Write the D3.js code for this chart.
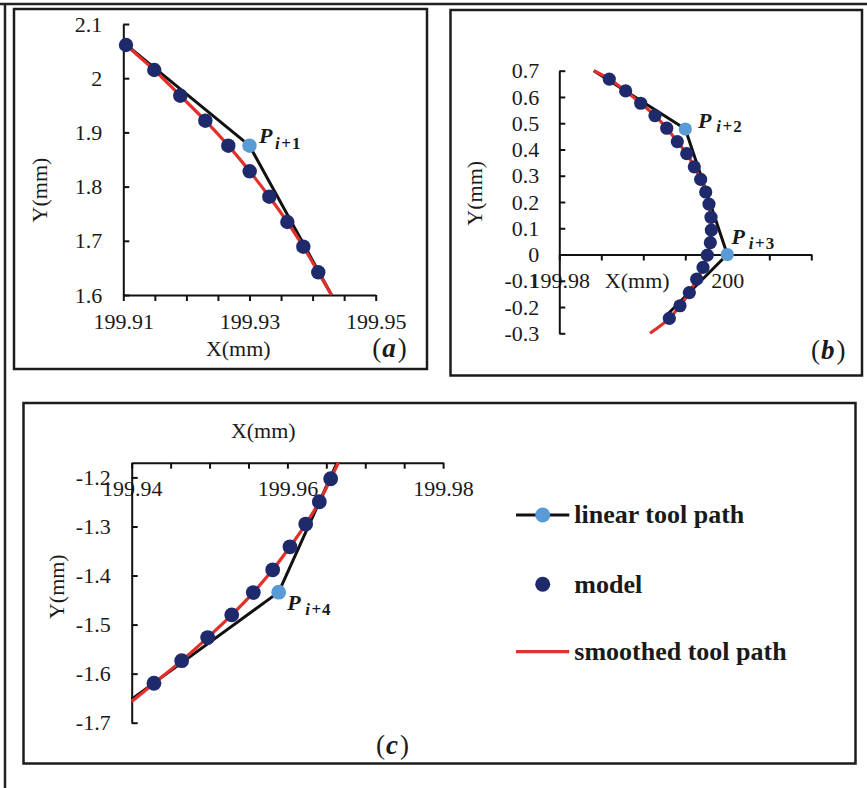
<!DOCTYPE html>
<html><head><meta charset="utf-8">
<script src="https://cdn.jsdelivr.net/npm/d3@7"></script>
<style>
body{margin:0;background:#fff}
svg{display:block}
text{font-family:"Liberation Serif","Times New Roman",serif;fill:#1a1a1a}
</style>
</head><body>
<svg id="chart" width="867" height="788"></svg>
<script>
// ---------------- DATA ----------------
// Panel (a)
const linearA = [[199.9100, 2.066], [199.9300, 1.8755], [199.9430, 1.600]];
const vertexA = [[199.9300, 1.8755]];
const modelA = [[199.91043, 2.0613], [199.91491, 2.0151], [199.91903, 1.9677], [199.92300, 1.9216],
  [199.92664, 1.8755], [199.93003, 1.8282], [199.93314, 1.7814], [199.93600, 1.7347],
  [199.93853, 1.6891], [199.94090, 1.6419]];
const smoothA = [[199.9100, 2.067], [199.91043, 2.0613], [199.91491, 2.0151], [199.91903, 1.9677],
  [199.92300, 1.9216], [199.92664, 1.8755], [199.93003, 1.8282], [199.93314, 1.7814],
  [199.93600, 1.7347], [199.93853, 1.6891], [199.94090, 1.6419], [199.9430, 1.600]];
const aXTicks = [199.91, 199.915, 199.92, 199.925, 199.93, 199.935, 199.94, 199.945, 199.95];
const aXLabels = [199.91, 199.93, 199.95];
const aYTicks = [1.6, 1.7, 1.8, 1.9, 2.0, 2.1];

// Panel (b)
const linearB = [[199.9841, 0.700], [199.9950, 0.478], [200.0000, 0.000], [199.9925, -0.240]];
const vertexB = [[199.9950, 0.478], [200.0000, 0.000]];
const modelB = [[199.98595, 0.668], [199.98790, 0.623], [199.98969, 0.576], [199.99139, 0.529],
  [199.99279, 0.481], [199.99405, 0.430], [199.99517, 0.384], [199.99607, 0.334],
  [199.99683, 0.286], [199.99743, 0.238], [199.99782, 0.192], [199.99806, 0.142],
  [199.99810, 0.093], [199.99798, 0.045], [199.99762, -0.002], [199.99711, -0.049],
  [199.99636, -0.094], [199.99548, -0.145], [199.99437, -0.195], [199.99310, -0.243]];
const smoothB = [[199.98413, 0.700], [199.98595, 0.668], [199.98790, 0.623], [199.98969, 0.576],
  [199.99139, 0.529], [199.99279, 0.481], [199.99405, 0.430], [199.99517, 0.384],
  [199.99607, 0.334], [199.99683, 0.286], [199.99743, 0.238], [199.99782, 0.192],
  [199.99806, 0.142], [199.99810, 0.093], [199.99798, 0.045], [199.99762, -0.002],
  [199.99711, -0.049], [199.99636, -0.094], [199.99548, -0.145], [199.99437, -0.195],
  [199.99310, -0.243], [199.99080, -0.300]];
const bXTicks = [199.98, 199.985, 199.99, 199.995, 200.0, 200.005, 200.01];
const bXLabels = [199.98, 200.0];
const bYTicks = [-0.3, -0.2, -0.1, 0, 0.1, 0.2, 0.3, 0.4, 0.5, 0.6, 0.7];

// Panel (c)
const linearC = [[199.9400, -1.652], [199.95888, -1.4339], [199.96638, -1.170]];
const vertexC = [[199.95888, -1.4339]];
const modelC = [[199.94286, -1.6196], [199.94642, -1.5735], [199.94976, -1.5265], [199.95285, -1.4802],
  [199.95562, -1.4347], [199.95811, -1.3884], [199.96033, -1.3414], [199.96235, -1.2951],
  [199.96410, -1.2496], [199.96556, -1.2027]];
const smoothC = [[199.9400, -1.657], [199.94286, -1.6196], [199.94642, -1.5735], [199.94976, -1.5265],
  [199.95285, -1.4802], [199.95562, -1.4347], [199.95811, -1.3884], [199.96033, -1.3414],
  [199.96235, -1.2951], [199.96410, -1.2496], [199.96556, -1.2027], [199.96654, -1.170]];
const cXTicks = [199.94, 199.945, 199.95, 199.955, 199.96, 199.965, 199.97, 199.975, 199.98];
const cXLabels = [199.94, 199.96, 199.98];
const cYTicks = [-1.7, -1.6, -1.5, -1.4, -1.3, -1.2];

const legendItems = ["linear tool path", "model", "smoothed tool path"];

// ---------------- STYLE ----------------
const C_BLACK = "#111111", C_NAVY = "#1f2a6c", C_BLUE = "#5b9bd5", C_RED = "#e3302a";
const FS = 22;
const SERIF = '"Liberation Serif", "Times New Roman", serif';

const svg = d3.select("#chart");
const fmt = d => String(+(+d).toFixed(4));

// outer frame lines
svg.append("line").attr("x1", 0).attr("x2", 867).attr("y1", 4).attr("y2", 4)
  .attr("stroke", "#222").attr("stroke-width", 2.5);
svg.append("line").attr("x1", 5).attr("x2", 5).attr("y1", 4).attr("y2", 788)
  .attr("stroke", "#222").attr("stroke-width", 2.5);

// panel boxes
[[14, 9, 413, 360], [450.5, 10, 411.5, 365.5], [23.5, 403, 832, 360.5]].forEach(r => {
  svg.append("rect").attr("x", r[0]).attr("y", r[1]).attr("width", r[2]).attr("height", r[3])
    .attr("fill", "none").attr("stroke", "#1c1c1c").attr("stroke-width", 2.5);
});

function drawPanel(p) {
  const g = svg.append("g");
  const x = p.x, y = p.y;
  // x axis
  const ax = d3.axisBottom(x).tickValues(p.xTicks).tickSizeInner(6).tickSizeOuter(0).tickPadding(12)
    .tickFormat(d => p.xLabels.some(v => Math.abs(v - d) < 1e-9) ? fmt(d) : "");
  const gx = g.append("g").attr("transform", `translate(0,${p.xAxisY})`).call(ax);
  // y axis
  const ay = d3.axisLeft(y).tickValues(p.yTicks).tickSizeInner(-6).tickSizeOuter(0).tickPadding(p.yPad)
    .tickFormat(fmt);
  const gy = g.append("g").attr("transform", `translate(${x.range()[0]},0)`).call(ay);
  [gx, gy].forEach(a => {
    a.attr("font-family", SERIF).attr("font-size", FS);
    a.selectAll("path,line").attr("stroke", "#111").attr("stroke-width", 2);
    a.selectAll("text").attr("fill", "#1a1a1a").style("font-family", SERIF).style("font-size", FS + "px");
  });
  // titles
  g.append("text").attr("x", p.xTitle[0]).attr("y", p.xTitle[1]).attr("text-anchor", "middle")
    .attr("font-size", FS).text("X(mm)");
  g.append("text").attr("transform", `translate(${p.yTitle[0]},${p.yTitle[1]}) rotate(-90)`)
    .attr("text-anchor", "middle").attr("font-size", FS).text("Y(mm)");
  // series
  const line = d3.line().x(d => x(d[0])).y(d => y(d[1]));
  g.append("path").datum(p.linear).attr("d", line).attr("fill", "none")
    .attr("stroke", C_BLACK).attr("stroke-width", 3).attr("stroke-linejoin", "round");
  const smooth = d3.line().x(d => x(d[0])).y(d => y(d[1])).curve(d3.curveCatmullRom.alpha(0.5));
  g.append("path").datum(p.smooth).attr("d", smooth).attr("fill", "none")
    .attr("stroke", C_RED).attr("stroke-width", 3.2);
  g.selectAll(".m").data(p.model).join("circle").attr("cx", d => x(d[0])).attr("cy", d => y(d[1]))
    .attr("r", p.r).attr("fill", C_NAVY);
  g.selectAll(".v").data(p.vertex).join("circle").attr("cx", d => x(d[0])).attr("cy", d => y(d[1]))
    .attr("r", p.r).attr("fill", C_BLUE);
  // P labels
  p.vertex.forEach((d, i) => {
    const px = x(d[0]), py = y(d[1]);
    const o = p.pOff[i];
    g.append("text").attr("x", px + o[0]).attr("y", py + o[1]).attr("font-size", 22)
      .attr("font-weight", "bold").attr("font-style", "italic").text("P");
    const t = g.append("text").attr("x", px + o[2]).attr("y", py + o[3]).attr("font-size", 17)
      .attr("font-weight", "bold");
    t.append("tspan").attr("font-style", "italic").text("i");
    t.append("tspan").attr("dx", 1.5).text("+");
    t.append("tspan").attr("dx", 1).text(p.idx[i]);
  });
  // panel letter
  const lt = g.append("text").attr("x", p.letter[0]).attr("y", p.letter[1]).attr("text-anchor", "middle")
    .attr("font-size", 27);
  lt.append("tspan").text("(");
  lt.append("tspan").attr("font-weight", "bold").attr("font-style", "italic").attr("dx", 1).text(p.name);
  lt.append("tspan").attr("dx", 2).text(")");
}

// Panel (a)
const xA = d3.scaleLinear().domain([199.91, 199.95]).range([123.3, 375.7]);
const yA = d3.scaleLinear().domain([1.6, 2.1]).range([295, 24]);
drawPanel({x: xA, y: yA, xTicks: aXTicks, xLabels: aXLabels, yTicks: aYTicks, xAxisY: yA(1.6), yPad: 21,
  xTitle: [238.3, 356], yTitle: [46.5, 190], linear: linearA, smooth: smoothA, model: modelA, vertex: vertexA,
  r: 7.2, pOff: [[9.6, -2.4, 25.5, 3]], idx: ["1"], letter: [389.5, 357], name: "a"});

// Panel (b)
const xB = d3.scaleLinear().domain([199.98, 200.01]).range([559.3, 811.3]);
const yB = d3.scaleLinear().domain([-0.3, 0.7]).range([333.3, 70.7]);
drawPanel({x: xB, y: yB, xTicks: bXTicks, xLabels: bXLabels, yTicks: bYTicks, xAxisY: yB(0), yPad: 20,
  xTitle: [637.2, 288.3], yTitle: [482, 193.3], linear: linearB, smooth: smoothB, model: modelB, vertex: vertexB,
  r: 6.6, pOff: [[12.6, -0.7, 31, 3.3], [4.3, -10.3, 21.5, -6]], idx: ["2", "3"], letter: [828.3, 358.5], name: "b"});

// Panel (c)
const xC = d3.scaleLinear().domain([199.94, 199.98]).range([131.7, 443.1]);
const yC = d3.scaleLinear().domain([-1.7, -1.17]).range([722.7, 462.7]);
drawPanel({x: xC, y: yC, xTicks: cXTicks, xLabels: cXLabels, yTicks: cYTicks, xAxisY: yC(-1.17), yPad: 21,
  xTitle: [263.3, 438.3], yTitle: [64, 586.7], linear: linearC, smooth: smoothC, model: modelC, vertex: vertexC,
  r: 7.4, pOff: [[8.6, 17.7, 26.5, 22.7]], idx: ["4"], letter: [392.5, 753.6], name: "c"});

// Legend
const lg = svg.append("g");
const rows = [515, 584.3, 651.7];
legendItems.forEach((name, i) => {
  const yy = rows[i];
  if (i === 0) {
    lg.append("line").attr("x1", 516).attr("x2", 569.3).attr("y1", yy).attr("y2", yy)
      .attr("stroke", C_BLACK).attr("stroke-width", 3.2);
    lg.append("circle").attr("cx", 542.7).attr("cy", yy).attr("r", 7.5).attr("fill", C_BLUE);
  } else if (i === 1) {
    lg.append("circle").attr("cx", 542.7).attr("cy", yy).attr("r", 7.5).attr("fill", C_NAVY);
  } else {
    lg.append("line").attr("x1", 516).attr("x2", 569.3).attr("y1", yy).attr("y2", yy)
      .attr("stroke", C_RED).attr("stroke-width", 3.2);
  }
  lg.append("text").attr("x", 574.3).attr("y", yy + 8.3).attr("font-size", 26).attr("font-weight", "bold")
    .text(name);
});
</script>
</body></html>
